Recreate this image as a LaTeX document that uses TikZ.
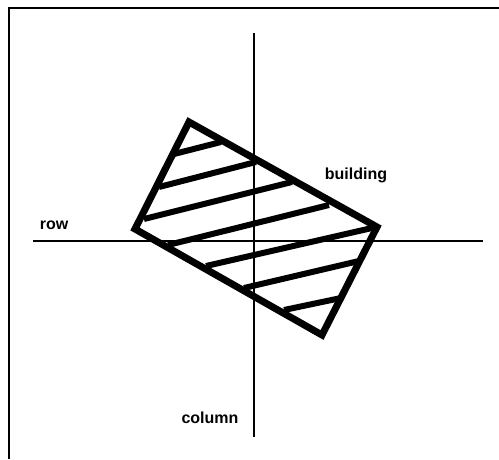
\documentclass[tikz,border=0pt]{standalone}
\usepackage{fontspec}
\setmainfont{Liberation Sans}
\begin{document}
\begin{tikzpicture}[x=1pt,y=-1pt,
  axis/.style={line width=1.5pt,black},
  frame/.style={line width=1.5pt,black},
  wall/.style={line width=7pt,black,line join=miter},
  hatch/.style={line width=6pt,black},
  lbl/.style={font=\fontsize{16}{18}\selectfont\bfseries,inner sep=0pt}]
\useasboundingbox (0,0) rectangle (499,459);
% frame
\coordinate (fTL) at (9,8);
\coordinate (fTR) at (499,8);
\coordinate (fBL) at (9,459);
\draw[frame] (fTR) -- (fTL) -- (fBL);
% axes
\coordinate (vT) at (254,33);
\coordinate (vB) at (254,437);
\coordinate (hL) at (33,241);
\coordinate (hR) at (483,241);
\draw[axis] (vT) -- (vB);
\draw[axis] (hL) -- (hR);
% building
\coordinate (A) at (189,122);
\coordinate (B) at (377,227);
\coordinate (C) at (322,335);
\coordinate (D) at (135,229);
\draw[wall] (A) -- (B) -- (C) -- (D) -- cycle;
% hatching
\coordinate (h1a) at (174,154); \coordinate (h1b) at (221,142);
\coordinate (h2a) at (159,187); \coordinate (h2b) at (256,162);
\coordinate (h3a) at (144,219); \coordinate (h3b) at (292,182);
\coordinate (h4a) at (168,245); \coordinate (h4b) at (329,205);
\coordinate (h5a) at (206,266); \coordinate (h5b) at (372,228);
\coordinate (h6a) at (244,288); \coordinate (h6b) at (359,261);
\coordinate (h7a) at (284,310); \coordinate (h7b) at (341,298);
\foreach \i in {1,...,7} \draw[hatch] (h\i a) -- (h\i b);
% labels
\node[lbl] (row) at (54,225) {row};
\node[lbl] (column) at (210,418) {column};
\node[lbl] (building) at (356,175) {building};
\end{tikzpicture}
\end{document}
